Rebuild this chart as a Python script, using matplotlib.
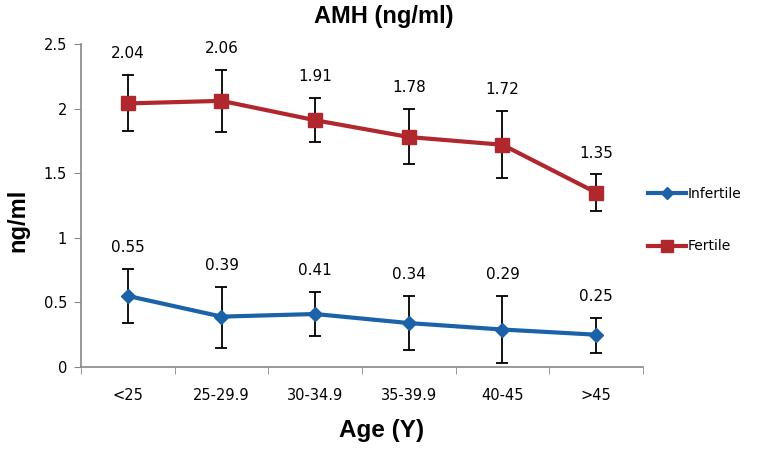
import matplotlib
matplotlib.use("Agg")
import matplotlib.pyplot as plt
from matplotlib.lines import Line2D

categories = ["<25", "25-29.9", "30-34.9", "35-39.9", "40-45", ">45"]
infertile = [0.55, 0.39, 0.41, 0.34, 0.29, 0.25]
infertile_hi = [0.76, 0.62, 0.58, 0.55, 0.55, 0.38]
infertile_lo = [0.34, 0.15, 0.24, 0.13, 0.03, 0.11]
fertile = [2.04, 2.06, 1.91, 1.78, 1.72, 1.35]
fertile_hi = [2.26, 2.30, 2.08, 2.00, 1.98, 1.49]
fertile_lo = [1.83, 1.82, 1.74, 1.57, 1.46, 1.21]
yticks = [0, 0.5, 1, 1.5, 2, 2.5]
ytick_labels = ["0", "0.5", "1", "1.5", "2", "2.5"]

blue = "#1B62A8"
red = "#B0282E"

fig = plt.figure(figsize=(7.75, 4.5), dpi=100)
ax = fig.add_axes([81/775, 1-367/450, (643-81)/775, (367-44)/450])

x = list(range(len(categories)))

def draw(vals, hi, lo, color, marker, ms):
    yerr = [[v - l for v, l in zip(vals, lo)], [h - v for v, h in zip(vals, hi)]]
    ax.errorbar(x, vals, yerr=yerr, fmt="none", ecolor="black", elinewidth=1.3,
                capsize=4, capthick=1.3, zorder=2)
    ax.plot(x, vals, color=color, lw=3, marker=marker, ms=ms, zorder=3)
    for xi, v, h in zip(x, vals, hi):
        ax.annotate(f"{v:.2f}", (xi, h), xytext=(0, 10), textcoords="offset points",
                    ha="center", va="bottom", fontsize=11, fontfamily="DejaVu Sans")

draw(fertile, fertile_hi, fertile_lo, red, "s", 10)
draw(infertile, infertile_hi, infertile_lo, blue, "D", 7)

ax.set_xlim(-0.5, len(categories) - 0.5)
ax.set_ylim(0, 2.5)
ax.set_yticks(yticks)
ax.set_yticklabels(ytick_labels, fontsize=10.5, fontfamily="DejaVu Sans")
ax.set_xticks(x)
ax.set_xticklabels(categories, fontsize=10.5, fontfamily="DejaVu Sans")
ax.tick_params(axis="x", which="major", length=0, pad=15)
ax.set_xticks([i + 0.5 for i in range(-1, len(categories))], minor=True)
ax.tick_params(axis="x", which="minor", length=5, color="#888888")
ax.tick_params(axis="y", length=5, color="#888888", pad=5)
for s in ["top", "right"]:
    ax.spines[s].set_visible(False)
for s in ["left", "bottom"]:
    ax.spines[s].set_color("#888888")
    ax.spines[s].set_linewidth(1.2)

fig.text(384/775, 1-17/450, "AMH (ng/ml)", ha="center", va="center",
         fontsize=17, fontweight="bold", fontfamily="Liberation Sans")
fig.text(382/775, 1-430/450, "Age (Y)", ha="center", va="center",
         fontsize=17.5, fontweight="bold", fontfamily="Liberation Sans")
fig.text(18/775, 1-220/450, "ng/ml", ha="center", va="center", rotation=90,
         fontsize=17, fontweight="bold", fontfamily="Liberation Sans")

handles = [Line2D([], [], color=blue, lw=3, marker="D", ms=6),
           Line2D([], [], color=red, lw=3, marker="s", ms=8)]
fig.legend(handles, ["Infertile", "Fertile"], loc="upper left",
           bbox_to_anchor=(635/775, 1-174/450), frameon=False,
           handlelength=2.8, handletextpad=0.1, labelspacing=2.8,
           prop={"family": "DejaVu Sans", "size": 10})

fig.savefig("out.png", dpi=100)
